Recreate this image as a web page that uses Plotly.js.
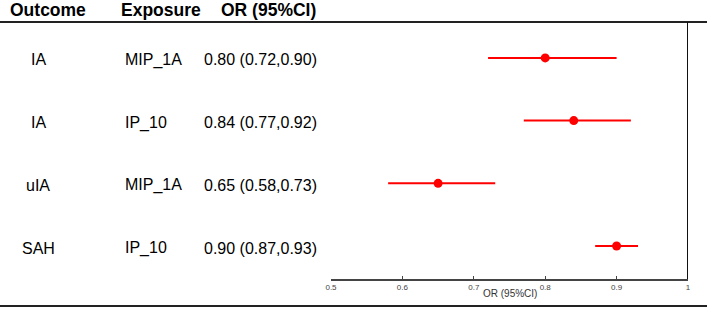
<!DOCTYPE html>
<html>
<head>
<meta charset="utf-8">
<script src="https://cdn.plot.ly/plotly-3.0.1.min.js"></script>
<style>html,body{margin:0;padding:0;background:#fff;}#chart{width:709px;height:309px;}</style>
</head>
<body>
<div id="chart"></div>
<script>
const outcomes = ["IA", "IA", "uIA", "SAH"];
const exposures = ["MIP_1A", "IP_10", "MIP_1A", "IP_10"];
const orValues = [0.80, 0.84, 0.65, 0.90];
const ciLow = [0.72, 0.77, 0.58, 0.87];
const ciHigh = [0.90, 0.92, 0.73, 0.93];
const tickVals = [0.5, 0.6, 0.7, 0.8, 0.9, 1];
const tickLabels = ["0.5", "0.6", "0.7", "0.8", "0.9", "1"];
const headers = ["Outcome", "Exposure", "OR (95%CI)"];

const W = 709, H = 309;
const px = x => x / W;
const py = y => 1 - y / H;

const n = orValues.length;
const rowY = orValues.map((_, i) => n - i);
const fmt = v => v.toFixed(2);
const orText = orValues.map((v, i) => fmt(v) + " (" + fmt(ciLow[i]) + "," + fmt(ciHigh[i]) + ")");

const trace = {
  type: "scatter",
  mode: "markers",
  x: orValues,
  y: rowY,
  marker: {color: "#ff0000", size: 9},
  error_x: {
    type: "data",
    symmetric: false,
    array: ciHigh.map((h, i) => h - orValues[i]),
    arrayminus: ciLow.map((l, i) => orValues[i] - l),
    color: "#ff0000",
    thickness: 2,
    width: 0
  },
  hoverinfo: "skip",
  showlegend: false
};

const rowFont = {family: "Liberation Sans, Arial, sans-serif", size: 16, color: "#000"};
const headFont = {family: "Liberation Sans, Arial, sans-serif", size: 17.5, color: "#000", weight: "bold"};

const annotations = [];
// headers
annotations.push({text: "<b>" + headers[0] + "</b>", xref: "paper", yref: "paper", x: px(48), y: py(10), xanchor: "center", yanchor: "middle", showarrow: false, font: headFont});
annotations.push({text: "<b>" + headers[1] + "</b>", xref: "paper", yref: "paper", x: px(119), y: py(10), xanchor: "left", yanchor: "middle", showarrow: false, font: headFont});
annotations.push({text: "<b>" + headers[2] + "</b>", xref: "paper", yref: "paper", x: px(219), y: py(10), xanchor: "left", yanchor: "middle", showarrow: false, font: headFont});
for (let i = 0; i < n; i++) {
  annotations.push({text: outcomes[i], xref: "paper", yref: "y", x: px(38), y: rowY[i], xanchor: "center", yanchor: "middle", yshift: -2, showarrow: false, font: rowFont});
  annotations.push({text: exposures[i], xref: "paper", yref: "y", x: px(123), y: rowY[i], xanchor: "left", yanchor: "middle", yshift: -2, showarrow: false, font: rowFont});
  annotations.push({text: orText[i], xref: "paper", yref: "y", x: px(202), y: rowY[i], xanchor: "left", yanchor: "middle", yshift: -2, showarrow: false, font: rowFont});
}
annotations.push({text: "OR (95%CI)", xref: "paper", yref: "paper", x: px(510), y: py(293), xanchor: "center", yanchor: "middle", showarrow: false, font: {family: "Liberation Sans, Arial, sans-serif", size: 10, color: "#333"}});

const layout = {
  width: W, height: H,
  margin: {l: 0, r: 0, t: 0, b: 0, pad: 0},
  paper_bgcolor: "#fff",
  plot_bgcolor: "#fff",
  showlegend: false,
  xaxis: {
    domain: [px(331), px(688)],
    range: [0.5, 1],
    tickvals: tickVals,
    ticktext: tickLabels,
    ticks: "inside",
    ticklen: 3,
    tickwidth: 1,
    tickcolor: "#444",
    showline: true,
    linecolor: "#444",
    linewidth: 1.5,
    showgrid: false,
    zeroline: false,
    tickfont: {family: "Liberation Sans, Arial, sans-serif", size: 8, color: "#444"},
    anchor: "y",
    fixedrange: true
  },
  yaxis: {
    domain: [py(279), py(22)],
    range: [0.474, 4.573],
    visible: false,
    showgrid: false,
    zeroline: false,
    fixedrange: true
  },
  shapes: [
    {type: "line", xref: "paper", yref: "paper", x0: 0, x1: px(707), y0: py(22), y1: py(22), line: {color: "#222", width: 2}},
    {type: "line", xref: "paper", yref: "paper", x0: 0, x1: px(707), y0: py(306), y1: py(306), line: {color: "#222", width: 2}},
    {type: "line", xref: "x", yref: "paper", x0: 1, x1: 1, y0: py(279), y1: py(22), line: {color: "#111", width: 2}}
  ],
  annotations: annotations
};

Plotly.newPlot("chart", [trace], layout, {displayModeBar: false, staticPlot: true});
</script>
</body>
</html>
